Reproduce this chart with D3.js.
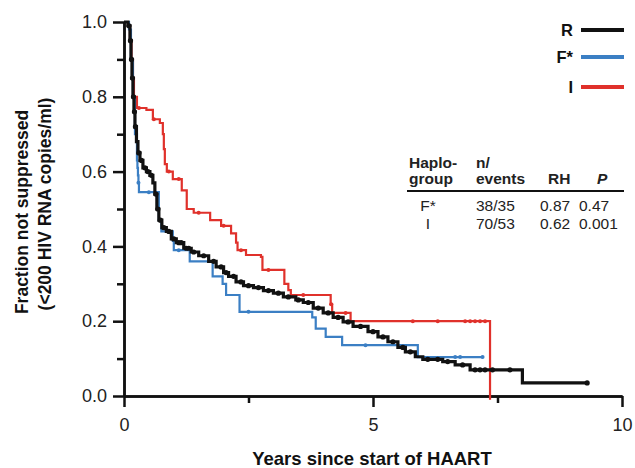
<!DOCTYPE html>
<html>
<head>
<meta charset="utf-8">
<script src="https://cdn.jsdelivr.net/npm/d3@7"></script>
<style>
  body { margin: 0; background: #fff; }
  svg { display: block; font-family: "Liberation Sans", Arial, Helvetica, sans-serif; }
</style>
</head>
<body>
<div id="chart"></div>
<script>
// Kaplan-Meier steps: [years, fraction not suppressed]
const stepsR = [
  [0, 1.0], [0.08, 0.99], [0.12, 0.95], [0.14, 0.9], [0.16, 0.85], [0.18, 0.8], [0.2, 0.76],
  [0.22, 0.72], [0.25, 0.68], [0.28, 0.65], [0.32, 0.63], [0.38, 0.61], [0.45, 0.6],
  [0.52, 0.59], [0.58, 0.57], [0.62, 0.54], [0.66, 0.5], [0.7, 0.47], [0.76, 0.45],
  [0.85, 0.44], [0.95, 0.42], [1.05, 0.41], [1.2, 0.395], [1.35, 0.385], [1.5, 0.375],
  [1.7, 0.36], [1.85, 0.345], [2.0, 0.33], [2.1, 0.32], [2.25, 0.305], [2.4, 0.295],
  [2.6, 0.29], [2.8, 0.282], [3.0, 0.275], [3.2, 0.265], [3.45, 0.257], [3.6, 0.25],
  [3.8, 0.235], [4.0, 0.222], [4.2, 0.21], [4.4, 0.198], [4.6, 0.186], [4.9, 0.172],
  [5.1, 0.158], [5.3, 0.145], [5.5, 0.13], [5.65, 0.118], [5.85, 0.105], [6.0, 0.098],
  [6.4, 0.092], [6.65, 0.083], [6.95, 0.07], [8.0, 0.035], [9.3, 0.035]
];
const stepsF = [
  [0, 1.0], [0.1, 0.98], [0.14, 0.9], [0.18, 0.8], [0.22, 0.7], [0.26, 0.63], [0.27, 0.61],
  [0.28, 0.59], [0.29, 0.57], [0.3, 0.545], [0.7, 0.47], [0.75, 0.44], [0.98, 0.415],
  [1.0, 0.39], [1.32, 0.36], [1.78, 0.32], [1.98, 0.3], [2.05, 0.27], [2.32, 0.225],
  [3.78, 0.21], [3.85, 0.18], [4.05, 0.158], [4.38, 0.136], [5.9, 0.104], [7.2, 0.104]
];
const stepsI = [
  [0, 1.0], [0.08, 0.99], [0.12, 0.95], [0.15, 0.9], [0.18, 0.85], [0.2, 0.8], [0.26, 0.77],
  [0.45, 0.765], [0.58, 0.74], [0.72, 0.73], [0.78, 0.7], [0.8, 0.66], [0.82, 0.62],
  [0.86, 0.6], [0.98, 0.58], [1.16, 0.55], [1.26, 0.5], [1.4, 0.49], [1.73, 0.47],
  [1.95, 0.455], [2.15, 0.435], [2.25, 0.41], [2.28, 0.39], [2.45, 0.377], [2.75, 0.372],
  [2.78, 0.337], [3.2, 0.337], [3.22, 0.3], [3.3, 0.283], [3.35, 0.27], [4.15, 0.245],
  [4.18, 0.222], [4.55, 0.2], [7.35, -0.01]
];

// censored observations (years)
const censorR = [0.1, 0.13, 0.15, 0.17, 0.19, 0.21, 0.23, 0.3, 0.35, 0.42, 0.48, 0.55, 0.64, 0.68,
  0.73, 0.8, 0.9, 1.0, 1.1, 1.15, 1.25, 1.3, 1.4, 1.6, 1.8, 1.95, 2.05, 2.2, 2.35, 2.5, 2.7, 2.9,
  3.1, 3.3, 3.5, 3.7, 3.9, 4.1, 4.3, 4.5, 4.75, 5.0, 5.2, 5.4, 5.6, 5.75, 6.1, 6.3, 6.5, 6.8,
  7.05, 7.15, 7.25, 7.4, 7.75, 9.3];
const censorF = [0.29, 0.5, 0.9, 1.1, 2.5, 4.85, 6.65, 6.75, 7.2];
const censorI = [0.3, 0.6, 0.9, 1.1, 1.5, 2.0, 2.35, 2.9, 3.6, 4.16, 4.45, 5.8, 6.3, 6.85, 6.95, 7.05, 7.15, 7.25];

const seriesNames = ["R", "F*", "I"];
const seriesColors = ["#111111", "#3b7fc4", "#e0312b"];

const yMajor = [0, 0.2, 0.4, 0.6, 0.8, 1.0];
const yMinor = [0.1, 0.3, 0.5, 0.7, 0.9];
const xMajor = [0, 5, 10];
const xMinor = [2.5, 7.5];

const tableHeader1 = ["Haplo-", "n/", "", ""];
const tableHeader2 = ["group", "events", "RH", "P"];
const tableRows = [
  ["F*", "38/35", "0.87", "0.47"],
  ["I", "70/53", "0.62", "0.001"]
];

const W = 635, H = 468;
const svg = d3.select("#chart").append("svg").attr("width", W).attr("height", H);

const x = d3.scaleLinear().domain([0, 10]).range([124, 622]);
const y = d3.scaleLinear().domain([0, 1]).range([396, 22]);

// axes
const axisW = 2.5;
svg.append("g").attr("transform", `translate(${x(0)},0)`)
  .call(d3.axisLeft(y).tickValues(yMajor).tickFormat(d3.format(".1f")).tickSize(11).tickSizeOuter(0).tickPadding(6));
svg.append("g").attr("transform", `translate(${x(0)},0)`)
  .call(d3.axisLeft(y).tickValues(yMinor).tickFormat("").tickSize(7).tickSizeOuter(0));
svg.append("g").attr("transform", `translate(0,${y(0)})`)
  .call(d3.axisBottom(x).tickValues(xMajor).tickFormat(d3.format("d")).tickSize(11).tickSizeOuter(0).tickPadding(11));
svg.append("g").attr("transform", `translate(0,${y(0)})`)
  .call(d3.axisBottom(x).tickValues(xMinor).tickFormat("").tickSize(7).tickSizeOuter(0));

svg.selectAll(".domain, .tick line").attr("stroke", "#111").attr("stroke-width", axisW);
svg.selectAll(".tick text").attr("font-size", 18).attr("fill", "#222")
  .attr("font-family", "'Liberation Sans', Arial, sans-serif");

// curves
const line = d3.line().x(d => x(d[0])).y(d => y(d[1])).curve(d3.curveStepAfter);
const allSteps = [stepsR, stepsF, stepsI];
const allCensor = [censorR, censorF, censorI];
const widths = [3.2, 2.2, 2.2];
const censorR_px = [2.6, 2, 2];

function valueAt(steps, t) {
  let v = steps[0][1];
  for (const s of steps) { if (s[0] <= t) v = s[1]; }
  return v;
}

// draw I, then F*, then R on top
[2, 1, 0].forEach(i => {
  svg.append("path")
    .datum(allSteps[i])
    .attr("fill", "none")
    .attr("stroke", seriesColors[i])
    .attr("stroke-width", widths[i])
    .attr("d", line);
  svg.append("g").selectAll("circle")
    .data(allCensor[i])
    .join("circle")
    .attr("cx", d => x(d))
    .attr("cy", d => y(valueAt(allSteps[i], d)))
    .attr("r", censorR_px[i])
    .attr("fill", seriesColors[i]);
});

// legend
const legend = svg.append("g");
seriesNames.forEach((name, i) => {
  const ly = [30, 57, 87][i];
  legend.append("text")
    .attr("x", 573).attr("y", ly + 6)
    .attr("text-anchor", "end")
    .attr("font-size", 16.5).attr("font-weight", "bold").attr("fill", "#111")
    .text(name);
  legend.append("line")
    .attr("x1", 581).attr("x2", 624).attr("y1", ly).attr("y2", ly)
    .attr("stroke", seriesColors[i]).attr("stroke-width", 4);
});

// table
const headX = [409, 476, 548, 597];
const rowX = [428, 476, 540, 579];
const table = svg.append("g").attr("font-size", 15.5).attr("fill", "#222");
tableHeader1.forEach((t, i) => {
  table.append("text").attr("x", headX[i]).attr("y", 168)
    .attr("font-weight", "bold").text(t);
});
tableHeader2.forEach((t, i) => {
  table.append("text").attr("x", headX[i]).attr("y", 184)
    .attr("font-weight", "bold")
    .attr("font-style", t === "P" ? "italic" : "normal")
    .text(t);
});
table.append("line").attr("x1", 407).attr("x2", 624).attr("y1", 191).attr("y2", 191)
  .attr("stroke", "#111").attr("stroke-width", 2);
tableRows.forEach((row, r) => {
  row.forEach((t, i) => {
    table.append("text").attr("x", rowX[i]).attr("y", 211 + r * 18)
      .attr("text-anchor", i === 0 ? "middle" : "start").text(t);
  });
});

// axis titles
svg.append("text")
  .attr("x", 372).attr("y", 465)
  .attr("text-anchor", "middle").attr("font-size", 18.5).attr("font-weight", "bold").attr("fill", "#111")
  .text("Years since start of HAART");
svg.append("text")
  .attr("transform", "translate(28,212) rotate(-90)")
  .attr("text-anchor", "middle").attr("font-size", 17.5).attr("font-weight", "bold").attr("fill", "#111")
  .text("Fraction not suppressed");
svg.append("text")
  .attr("transform", "translate(51,204) rotate(-90)")
  .attr("text-anchor", "middle").attr("font-size", 17.5).attr("font-weight", "bold").attr("fill", "#111")
  .text("(<200 HIV RNA copies/ml)");
</script>
</body>
</html>
